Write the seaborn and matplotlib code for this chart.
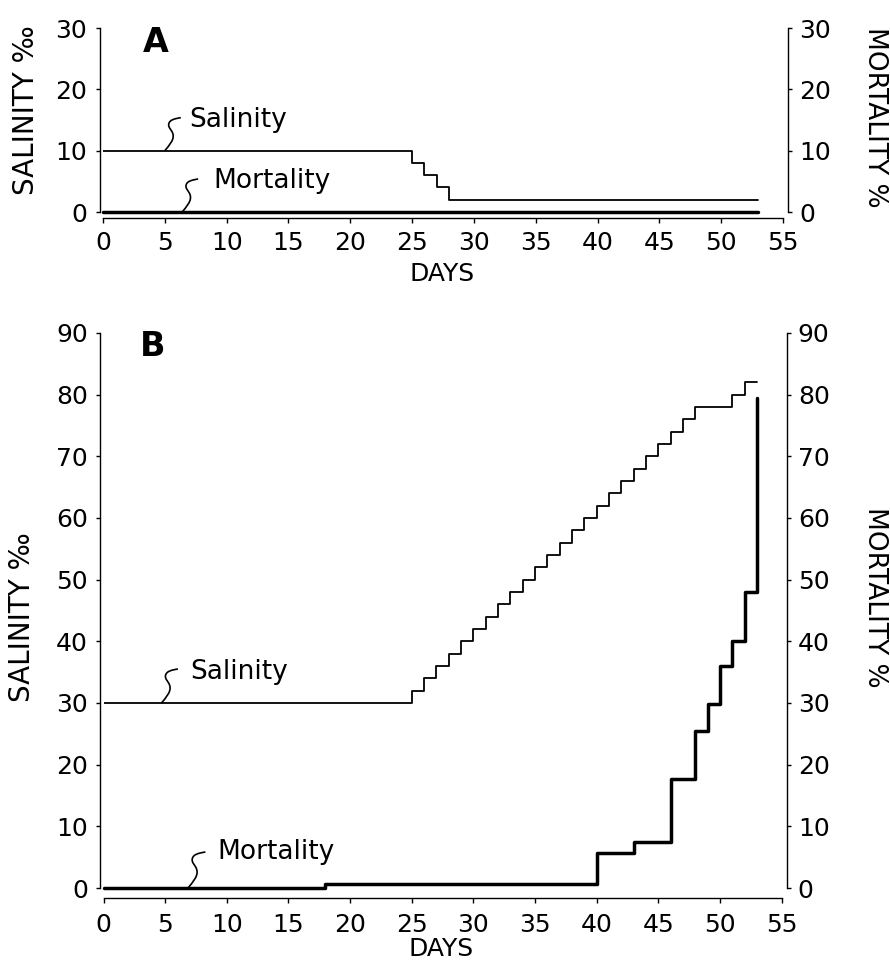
import matplotlib
matplotlib.use("Agg")
import matplotlib.pyplot as plt
import seaborn as sns
import pandas as pd
from matplotlib.path import Path
from matplotlib.patches import PathPatch
from matplotlib.transforms import ScaledTranslation

# ---------------- data ----------------
# Panel A
a_sal_days = [0, 25, 26, 27, 28, 53]
a_sal_vals = [10, 8, 6, 4, 2, 2]
a_mort_days = [0, 53]
a_mort_vals = [0, 0]

# Panel B
b_sal_days = [0, 25, 26, 27, 28, 29, 30, 31, 32, 33, 34, 35, 36, 37, 38, 39,
              40, 41, 42, 43, 44, 45, 46, 47, 48, 51, 52, 53]
b_sal_vals = [30, 32, 34, 36, 38, 40, 42, 44, 46, 48, 50, 52, 54, 56, 58, 60,
              62, 64, 66, 68, 70, 72, 74, 76, 78, 80, 82, 82]
b_mort_days = [0, 18, 40, 43, 46, 48, 49, 50, 51, 52, 53]
b_mort_vals = [0, 0.6, 5.6, 7.5, 17.6, 25.5, 29.8, 36, 40, 48, 79.5]

x_ticks = [0, 5, 10, 15, 20, 25, 30, 35, 40, 45, 50, 55]
a_y_ticks = [0, 10, 20, 30]
b_y_ticks = [0, 10, 20, 30, 40, 50, 60, 70, 80, 90]

# ---------------- style ----------------
sns.set_theme(style="ticks")
plt.rcParams["font.family"] = ["DejaVu Sans"]
plt.rcParams["axes.edgecolor"] = "black"
plt.rcParams["xtick.color"] = "black"
plt.rcParams["ytick.color"] = "black"
plt.rcParams["text.color"] = "black"

W, H = 890, 965
fig = plt.figure(figsize=(W / 100, H / 100), dpi=100)


def px_axes(x0, x1, yb, yt):
    return fig.add_axes([x0 / W, 1 - yb / H, (x1 - x0) / W, (yb - yt) / H])


def squiggle(ax, x, y, h_px):
    s = h_px / 33.0 / 100.0
    pts = [(0, 0), (4, 5), (10, 11), (8, 17), (7, 21), (3, 23), (4, 27),
           (5, 31), (10, 32), (16, 33)]
    codes = [Path.MOVETO] + [Path.CURVE4] * 9
    verts = [(px * s, py * s) for px, py in pts]
    trans = fig.dpi_scale_trans + ScaledTranslation(x, y, ax.transData)
    ax.add_patch(PathPatch(Path(verts, codes), transform=trans, fill=False,
                           lw=1.2, edgecolor="black", clip_on=False))


def setup(ax, twin, ymax, yticks, bottom_off, xpad):
    ax.set_xlim(0, 55)
    ax.set_ylim(0, ymax)
    twin.set_ylim(0, ymax)
    ax.set_xticks(x_ticks)
    ax.set_yticks(yticks)
    twin.set_yticks(yticks)
    for sp in ["top", "right"]:
        ax.spines[sp].set_visible(False)
    for sp in ["top", "left", "bottom"]:
        twin.spines[sp].set_visible(False)
    ax.spines["left"].set_position(("outward", 2.3))
    ax.spines["bottom"].set_position(("outward", bottom_off))
    twin.spines["right"].set_position(("outward", 3.6))
    for sp in [ax.spines["left"], ax.spines["bottom"], twin.spines["right"]]:
        sp.set_linewidth(1.0)
        sp.set_color("black")
    ax.tick_params(axis="y", direction="out", length=3, width=1, pad=6,
                   labelsize=18)
    ax.tick_params(axis="x", direction="out", length=3.5, width=1, pad=xpad,
                   labelsize=18)
    twin.tick_params(axis="y", direction="out", length=3, width=1, pad=5,
                     labelsize=18)
    ax.set_xlabel("")
    ax.set_ylabel("")
    twin.set_ylabel("")
    ax.grid(False)
    twin.grid(False)


def draw(ax, twin, sd, sv, md, mv):
    sns.lineplot(x=sd, y=sv, ax=ax, color="black", lw=1.3,
                 drawstyle="steps-post", estimator=None, sort=False)
    sns.lineplot(x=md, y=mv, ax=twin, color="black", lw=2.5,
                 drawstyle="steps-post", estimator=None, sort=False,
                 clip_on=False)


# ---------------- panel A ----------------
axA = px_axes(103, 783, 212, 28)
twA = axA.twinx()
draw(axA, twA, a_sal_days, a_sal_vals, a_mort_days, a_mort_vals)
setup(axA, twA, 30, a_y_ticks, 4.3, 6)

squiggle(axA, 5.0, 10, 33)
axA.annotate("Salinity", xy=(5.0, 10), xytext=(24, 31),
             textcoords="offset pixels", ha="left", va="center", fontsize=19)
squiggle(axA, 6.4, 0, 33)
axA.annotate("Mortality", xy=(6.4, 0), xytext=(31, 31),
             textcoords="offset pixels", ha="left", va="center", fontsize=19)

# ---------------- panel B ----------------
axB = px_axes(103.5, 781.7, 888, 333)
twB = axB.twinx()
draw(axB, twB, b_sal_days, b_sal_vals, b_mort_days, b_mort_vals)
setup(axB, twB, 90, b_y_ticks, 7.2, 7)

squiggle(axB, 4.7, 30, 34)
axB.annotate("Salinity", xy=(4.7, 30), xytext=(29, 31),
             textcoords="offset pixels", ha="left", va="center", fontsize=19)
squiggle(axB, 6.85, 0, 36)
axB.annotate("Mortality", xy=(6.85, 0), xytext=(29, 36),
             textcoords="offset pixels", ha="left", va="center", fontsize=19)

# ---------------- labels ----------------
def ftext(x, y, s, **kw):
    fig.text(x / W, 1 - y / H, s, ha="center", va="center",
             rotation_mode="anchor", **kw)


ftext(156, 42, "A", fontsize=24, fontweight="bold")
ftext(153, 347, "B", fontsize=24, fontweight="bold")
ftext(26, 110, "SALINITY ‰", fontsize=20, rotation=90)
ftext(22, 617, "SALINITY ‰", fontsize=20, rotation=90)
ftext(875, 117, "MORTALITY %", fontsize=19, rotation=270)
ftext(875, 597, "MORTALITY %", fontsize=19, rotation=270)
ftext(442, 274, "DAYS", fontsize=18)
ftext(441, 949, "DAYS", fontsize=18)

fig.savefig("out.png", dpi=100)
